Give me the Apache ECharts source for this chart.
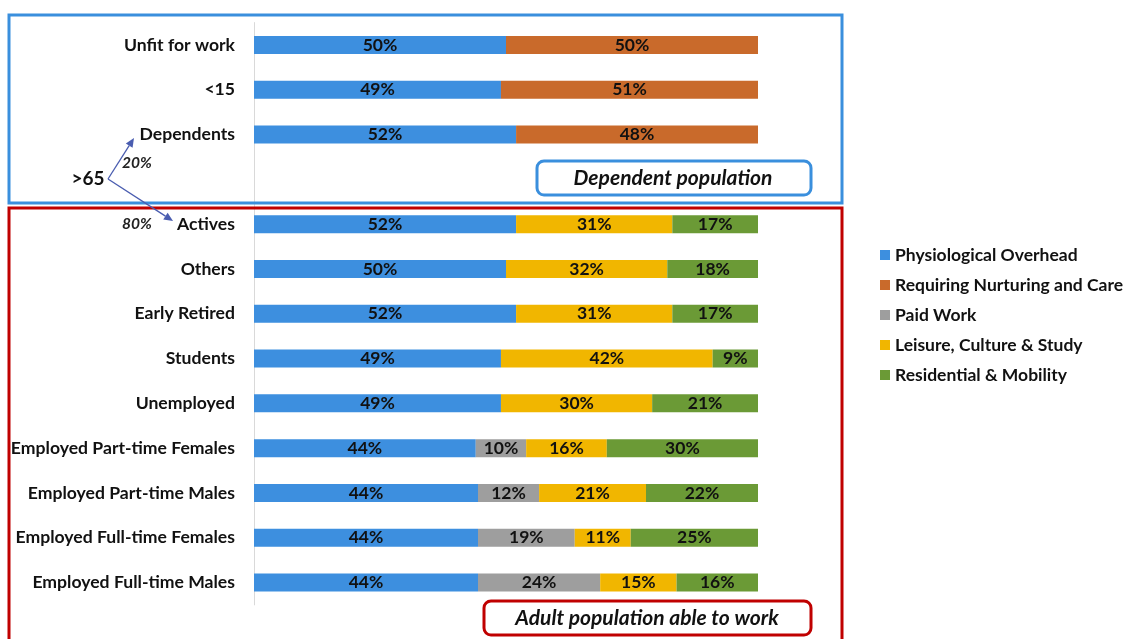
<!DOCTYPE html>
<html>
<head>
<meta charset="utf-8">
<script src="https://cdn.jsdelivr.net/npm/echarts@6/dist/echarts.min.js"></script>
<style>
html,body{margin:0;padding:0;background:#fff;}
#chart{width:1127px;height:639px;}
</style>
</head>
<body>
<div id="chart"></div>
<script>
const categories = ['Unfit for work', '<15', 'Dependents', '', 'Actives', 'Others', 'Early Retired', 'Students', 'Unemployed',
  'Employed Part-time Females', 'Employed Part-time Males', 'Employed Full-time Females', 'Employed Full-time Males'];
const seriesNames = ['Physiological Overhead', 'Requiring Nurturing and Care', 'Paid Work', 'Leisure, Culture & Study', 'Residential & Mobility'];
const physiological = [50, 49, 52, null, 52, 50, 52, 49, 49, 44, 44, 44, 44];
const nurturing     = [50, 51, 48, null, 0, 0, 0, 0, 0, 0, 0, 0, 0];
const paidWork      = [0, 0, 0, null, 0, 0, 0, 0, 0, 10, 12, 19, 24];
const leisure       = [0, 0, 0, null, 31, 32, 31, 42, 30, 16, 21, 11, 15];
const residential   = [0, 0, 0, null, 17, 18, 17, 9, 21, 30, 22, 25, 16];
const colors = ['#3d8fdf', '#c96a2b', '#9e9e9e', '#f1b600', '#6b9a36'];

const allSeries = [physiological, nurturing, paidWork, leisure, residential];
const rowSums = categories.map((c, i) => allSeries.reduce((s, arr) => s + (arr[i] || 0), 0));

const FONT = 'Lato';
const series = allSeries.map((arr, k) => ({
  name: seriesNames[k],
  type: 'bar',
  stack: 'total',
  barWidth: 18,
  itemStyle: { color: colors[k] },
  data: arr.map((v, i) => (v ? { value: v / rowSums[i] * 100, raw: v } : null)),
  label: {
    show: true,
    position: 'inside',
    fontFamily: FONT,
    fontWeight: 'bold',
    fontSize: 17.5,
    color: '#111',
    formatter: p => (p.data && p.data.raw ? p.data.raw + '%' : '')
  }
}));

function arrow(x1, y1, x2, y2, color) {
  const dx = x2 - x1, dy = y2 - y1, L = Math.hypot(dx, dy);
  const ux = dx / L, uy = dy / L, hl = 9, hw = 4;
  const bx = x2 - ux * hl, by = y2 - uy * hl;
  return [
    { type: 'line', shape: { x1: x1, y1: y1, x2: bx, y2: by }, style: { stroke: color, lineWidth: 1.3 } },
    { type: 'polygon', shape: { points: [[x2, y2], [bx - uy * hw, by + ux * hw], [bx + uy * hw, by - ux * hw]] }, style: { fill: color } }
  ];
}

const chart = echarts.init(document.getElementById('chart'));
chart.setOption({
  animation: false,
  backgroundColor: '#fff',
  color: colors,
  grid: { left: 254, right: 369, top: 22.6, height: 582.3, containLabel: false },
  legend: {
    orient: 'vertical',
    left: 875,
    top: 241,
    itemWidth: 10,
    itemHeight: 10,
    itemGap: 12,
    icon: 'rect',
    textStyle: { fontFamily: FONT, fontWeight: 'bold', fontSize: 17.5, color: '#111', lineHeight: 18 },
    data: seriesNames
  },
  xAxis: { type: 'value', min: 0, max: 100, show: false },
  yAxis: {
    type: 'category',
    inverse: true,
    data: categories,
    axisLine: { show: true, lineStyle: { color: '#d9d9d9', width: 1 } },
    axisTick: { show: false },
    axisLabel: { fontFamily: FONT, fontWeight: 'bold', fontSize: 17.6, color: '#111', margin: 19 }
  },
  series: series,
  graphic: [
    { type: 'rect', shape: { x: 9, y: 15, width: 833, height: 188 }, style: { fill: 'none', stroke: '#3a8fdd', lineWidth: 3 }, z: 10 },
    { type: 'rect', shape: { x: 9, y: 208, width: 833, height: 440 }, style: { fill: 'none', stroke: '#c00000', lineWidth: 3 }, z: 10 },
    { type: 'rect', shape: { x: 537, y: 161, width: 274, height: 34, r: 7 }, style: { fill: '#fff', stroke: '#3a8fdd', lineWidth: 3 }, z: 10 },
    { type: 'text', x: 673, y: 178, style: { text: 'Dependent population', fontFamily: FONT, fontWeight: 'bold', fontStyle: 'italic', fontSize: 21, fill: '#111', textAlign: 'center', textVerticalAlign: 'middle' }, z: 11 },
    { type: 'rect', shape: { x: 484, y: 601, width: 327, height: 34, r: 7 }, style: { fill: '#fff', stroke: '#c00000', lineWidth: 3 }, z: 10 },
    { type: 'text', x: 647, y: 618, style: { text: 'Adult population able to work', fontFamily: FONT, fontWeight: 'bold', fontStyle: 'italic', fontSize: 21, fill: '#111', textAlign: 'center', textVerticalAlign: 'middle' }, z: 11 },
    { type: 'text', x: 88, y: 179, style: { text: '>65', fontFamily: FONT, fontWeight: 'bold', fontSize: 19, fill: '#111', textAlign: 'center', textVerticalAlign: 'middle' }, z: 11 },
    { type: 'text', x: 137, y: 163, style: { text: '20%', fontFamily: FONT, fontWeight: 'bold', fontStyle: 'italic', fontSize: 15.5, fill: '#222', textAlign: 'center', textVerticalAlign: 'middle' }, z: 11 },
    { type: 'text', x: 137, y: 224, style: { text: '80%', fontFamily: FONT, fontWeight: 'bold', fontStyle: 'italic', fontSize: 15.5, fill: '#222', textAlign: 'center', textVerticalAlign: 'middle' }, z: 11 },
    ...arrow(108, 179, 134, 138, '#4a5db0').map(e => Object.assign(e, { z: 12 })),
    ...arrow(108, 179, 173, 221, '#4a5db0').map(e => Object.assign(e, { z: 12 }))
  ]
});
</script>
</body>
</html>
